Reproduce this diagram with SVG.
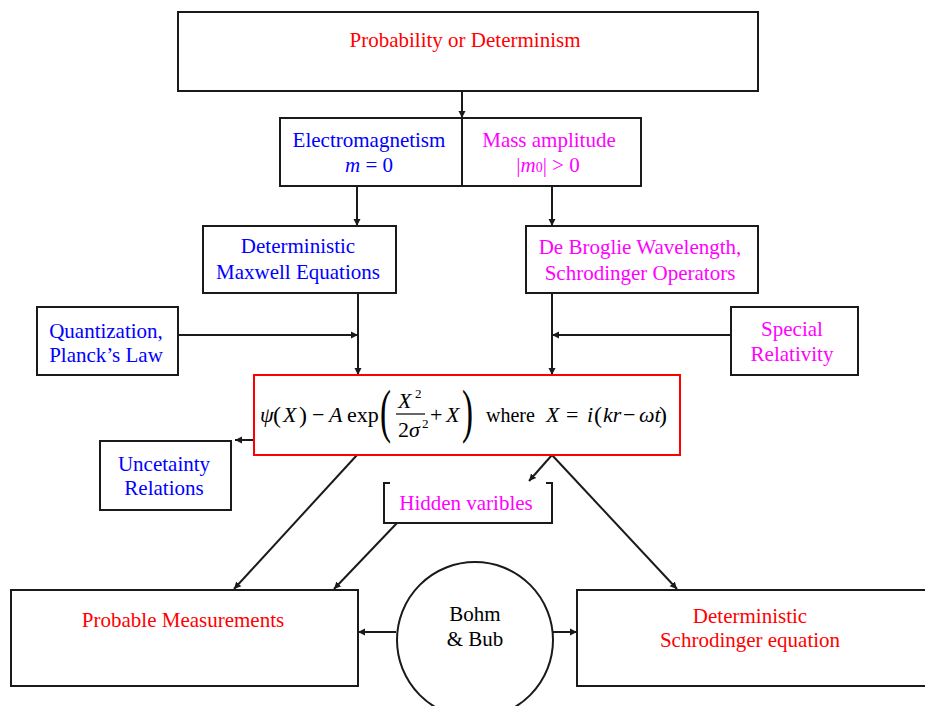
<svg xmlns="http://www.w3.org/2000/svg" width="925" height="706" viewBox="0 0 925 706">
<defs>
<style>
.box{fill:#fff;stroke:#1a1a1a;stroke-width:2}
.rbox{fill:#fff;stroke:#ff0000;stroke-width:2}
.t{font-family:"Liberation Serif","Times New Roman",serif;font-size:21px;text-anchor:middle}
.red{fill:#ff0000}.blue{fill:#0000ff}.mag{fill:#ff00ff}.blk{fill:#000}
.m{font-family:"Liberation Serif","Times New Roman",serif;font-size:22px;fill:#000}
.i{font-style:italic}
.sup{font-size:13px}
.par{font-size:24px}
.big{font-size:60px}
.c{fill:none;stroke:#1a1a1a;stroke-width:2;marker-end:url(#ah)}
</style>
<marker id="ah" markerUnits="userSpaceOnUse" markerWidth="8" markerHeight="8" refX="7" refY="4" orient="auto">
<path d="M0,0.5 L7,4 L0,7.5 z" fill="#1a1a1a"/>
</marker>
</defs>
<rect width="925" height="706" fill="#fff"/>

<g id="connectors">
<path class="c" d="M462,91 V118"/>
<path class="c" d="M357,186 V226"/>
<path class="c" d="M552,186 V226"/>
<path class="c" d="M358,293 V375"/>
<path class="c" d="M552,293 V375"/>
<path class="c" d="M178,335 H358"/>
<path class="c" d="M731,335 H552"/>
<path class="c" d="M254,440 H235"/>
<path class="c" d="M552,455 L529,481"/>
<path class="c" d="M552,455 L677,589"/>
<path class="c" d="M357,455 L234,589"/>
<path class="c" d="M397,523 L334,589"/>
<path class="c" d="M396,632 H358"/>
<path class="c" d="M553,632 H577"/>
</g>

<g id="probability">
<rect class="box" x="178" y="12" width="580" height="79"/>
<text class="t red" x="465" y="47">Probability or Determinism</text>
</g>

<g id="electromagnetism">
<rect class="box" x="280" y="118" width="182" height="68"/>
<text class="t blue" x="369" y="147">Electromagnetism</text>
<text class="t blue" x="369" y="172"><tspan font-style="italic">m</tspan> = 0</text>
</g>

<g id="mass">
<rect class="box" x="462" y="118" width="179" height="68"/>
<text class="t mag" x="549" y="147">Mass amplitude</text>
<text class="t mag" x="548" y="172">|<tspan font-style="italic">m</tspan><tspan style="font-size:14px">0</tspan>| &gt; 0</text>
</g>

<g id="maxwell">
<rect class="box" x="203" y="226" width="193" height="67"/>
<text class="t blue" x="298" y="253">Deterministic</text>
<text class="t blue" x="298" y="279">Maxwell Equations</text>
</g>

<g id="debroglie">
<rect class="box" x="526" y="226" width="232" height="67"/>
<text class="t mag" x="640" y="254">De Broglie Wavelength,</text>
<text class="t mag" x="640" y="280">Schrodinger Operators</text>
</g>

<g id="quantization">
<rect class="box" x="37" y="307" width="141" height="68"/>
<text class="t blue" x="106" y="338">Quantization,</text>
<text class="t blue" x="106" y="362">Planck’s Law</text>
</g>

<g id="relativity">
<rect class="box" x="731" y="307" width="127" height="68"/>
<text class="t mag" x="792" y="336">Special</text>
<text class="t mag" x="792" y="361">Relativity</text>
</g>

<g id="formula">
<rect class="rbox" x="254" y="375" width="426" height="80"/>
<text class="m i" x="260" y="422">ψ</text>
<text class="m par" x="273" y="423">(</text>
<text class="m i" x="283" y="422">X</text>
<text class="m par" x="299" y="423">)</text>
<text class="m" x="312" y="422">−</text>
<text class="m i" x="329" y="422">A</text>
<text class="m" x="347" y="422">exp</text>
<text class="m big" transform="translate(380,431) scale(0.55,1)">(</text>
<text class="m i" x="398" y="408">X</text>
<text class="m sup" x="415" y="398">2</text>
<line x1="396" y1="414" x2="425" y2="414" stroke="#000" stroke-width="1.2"/>
<text class="m" x="398" y="437">2</text>
<text class="m i" x="409" y="437">σ</text>
<text class="m sup" x="422" y="428">2</text>
<text class="m" x="430" y="422">+</text>
<text class="m i" x="446" y="422">X</text>
<text class="m big" transform="translate(462,431) scale(0.55,1)">)</text>
<text class="m" x="486" y="422" style="font-size:20px">where</text>
<text class="m i" x="546" y="422">X</text>
<text class="m" x="566" y="422">=</text>
<text class="m i" x="587" y="422">i</text>
<text class="m par" x="594" y="423">(</text>
<text class="m i" x="603" y="422">kr</text>
<text class="m" x="623" y="422">−</text>
<text class="m i" x="639" y="422">ωt</text>
<text class="m par" x="659" y="423">)</text>
</g>

<g id="uncertainty">
<rect class="box" x="100" y="441" width="131" height="69"/>
<text class="t blue" x="164" y="471">Uncetainty</text>
<text class="t blue" x="164" y="495">Relations</text>
</g>

<g id="hidden">
<path d="M390,483 H384 V523 H552 V483 H546" fill="#fff" stroke="#1a1a1a" stroke-width="2"/>
<text class="t mag" x="466" y="510">Hidden varibles</text>
</g>

<g id="probable">
<rect class="box" x="11" y="590" width="347" height="96"/>
<text class="t red" x="183" y="627">Probable Measurements</text>
</g>

<g id="bohm">
<ellipse cx="475" cy="640" rx="78" ry="78" fill="#fff" stroke="#1a1a1a" stroke-width="2"/>
<text class="t blk" x="475" y="621">Bohm</text>
<text class="t blk" x="475" y="646">&amp; Bub</text>
</g>

<g id="detschrodinger">
<rect class="box" x="577" y="590" width="360" height="96"/>
<text class="t red" x="750" y="623">Deterministic</text>
<text class="t red" x="750" y="647">Schrodinger equation</text>
</g>
</svg>
